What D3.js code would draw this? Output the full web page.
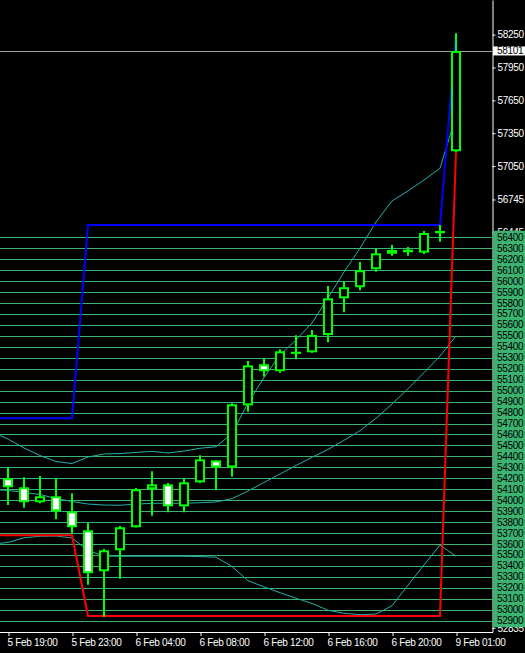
<!DOCTYPE html>
<html>

<head>
    <meta charset="utf-8">
    <style>
        body {
            margin: 0;
            background: #000;
        }

        svg {
            display: block;
            background: #000;
        }

        text {
            font-family: 'Liberation Sans', Arial, sans-serif;
            font-size: 10px;
            letter-spacing: -0.3px;
        }

        .axis .domain,
        .axis .tick line {
            stroke: #fff;
        }

        .axis .tick text {
            fill: #fff;
        }
    </style>
</head>

<body>
    <svg width="525" height="653"></svg>

    <script src="https://d3js.org/d3.v7.min.js"></script>
    <script>
        // hourly bars, label every 4th bar
        let timeLabels = ["5 Feb 19:00", "5 Feb 23:00", "6 Feb 04:00", "6 Feb 08:00",
            "6 Feb 12:00", "6 Feb 16:00", "6 Feb 20:00", "9 Feb 01:00"]
        let labelBars = [0, 4, 8, 12, 16, 20, 24, 28]

        let opens = [54200, 54118, 53981, 54036, 53899, 53725, 53351, 53543, 53753, 54100,
            54145, 53944, 54163, 54364, 54300, 54866, 55241, 55177, 55355, 55350,
            55508, 55843, 55944, 56108, 56250, 56287, 56260, 56437, 57185]
        let highs = [54300, 54209, 54221, 54203, 54063, 53795, 53557, 53765, 54111, 54264,
            54157, 54200, 54410, 54366, 54885, 55271, 55295, 55378, 55505, 55554,
            55956, 55995, 56175, 56300, 56330, 56312, 56458, 56512, 58262]
        let lows = [53956, 53932, 53972, 53826, 53698, 53229, 52937, 53283, 53750, 53859,
            53890, 53890, 54154, 54090, 54215, 54808, 55127, 55164, 55286, 55345,
            55442, 55715, 55916, 56086, 56232, 56232, 56248, 56360, 57178]
        let closes = [54118, 53981, 54036, 53899, 53753, 53333, 53543, 53753, 54100, 54145,
            53944, 54163, 54373, 54300, 54876, 55231, 55177, 55359, 55343, 55508,
            55843, 55944, 56099, 56254, 56284, 56263, 56439, 56458, 58101]

        // indicator lines, one value per bar starting at bar -1
        let upperBand = [54623, 54559, 54477, 54408, 54353, 54335, 54394, 54422, 54426, 54436,
            54446, 54431, 54449, 54474, 54488, 54610, 54887, 55120, 55326, 55463,
            55618, 55846, 56083, 56300, 56540, 56731, 56823, 56923, 57030, 57507]
        let middleBand = [54098, 54089, 54072, 54052, 54016, 53988, 53965, 53956, 53954, 53964,
            53972, 53972, 53972, 53977, 53984, 54014, 54084, 54162, 54239, 54317,
            54392, 54463, 54547, 54635, 54748, 54878, 55018, 55164, 55316, 55499]
        let lowerBand = [53600, 53614, 53657, 53671, 53673, 53655, 53541, 53491, 53488, 53488,
            53488, 53488, 53488, 53486, 53480, 53395, 53265, 53209, 53156, 53105,
            53058, 52995, 52968, 52955, 52961, 53037, 53225, 53409, 53591, 53489]
        let highLine = [54748, 54748, 54748, 54748, 54748, 54748, 56512, 56512, 56512, 56512,
            56512, 56512, 56512, 56512, 56512, 56512, 56512, 56512, 56512, 56512,
            56512, 56512, 56512, 56512, 56512, 56512, 56512, 56512, 56512, 58262]
        let lowLine = [53680, 53680, 53680, 53680, 53680, 53680, 52943, 52943, 52943, 52943,
            52943, 52943, 52943, 52943, 52943, 52943, 52943, 52943, 52943, 52943,
            52943, 52943, 52943, 52943, 52943, 52943, 52943, 52943, 52943, 57181]

        // horizontal level lines (with labels on the price scale)
        let levels = [56400, 56300, 56200, 56100, 56000, 55900, 55800, 55700, 55600, 55500,
            55400, 55300, 55200, 55100, 55000, 54900, 54800, 54700, 54600, 54500,
            54400, 54300, 54200, 54100, 54000, 53900, 53800, 53700, 53600, 53500,
            53400, 53300, 53200, 53100, 53000, 52900]
        let priceTicks = [58250, 57950, 57650, 57350, 57050, 56745, 56445, 52835]
        let lastPrice = 58101

        let plotRight = 492
        let plotBottom = 632
        let svg = d3.select("svg")

        let x = d3.scaleLinear()
            .domain([0, 28])
            .range([8, 456])

        let y = d3.scaleLinear()
            .domain([52797, 58566])
            .range([plotBottom, 0])

        svg.append("clipPath")
            .attr("id", "plot")
            .append("rect")
            .attr("width", plotRight)
            .attr("height", plotBottom)

        let plot = svg.append("g").attr("clip-path", "url(#plot)")

        plot.append("g")
            .selectAll("line")
            .data(levels)
            .join("line")
            .attr("x1", 0)
            .attr("x2", plotRight)
            .attr("y1", d => Math.round(y(d)) + 0.5)
            .attr("y2", d => Math.round(y(d)) + 0.5)
            .attr("stroke", "#3cb371")

        let line = d3.line()
            .x((d, i) => x(i - 1))
            .y(d => y(d))

        plot.selectAll(".band")
            .data([upperBand, middleBand, lowerBand])
            .join("path")
            .attr("class", "band")
            .attr("fill", "none")
            .attr("stroke", "#20b2aa")
            .attr("stroke-width", 1)
            .attr("d", line)

        plot.append("path")
            .attr("fill", "none")
            .attr("stroke", "#0000ff")
            .attr("stroke-width", 2)
            .attr("d", line(highLine))

        plot.append("path")
            .attr("fill", "none")
            .attr("stroke", "#ff0000")
            .attr("stroke-width", 2)
            .attr("d", line(lowLine))

        plot.append("line")
            .attr("x1", 0)
            .attr("x2", plotRight)
            .attr("y1", Math.round(y(lastPrice)) + 0.5)
            .attr("y2", Math.round(y(lastPrice)) + 0.5)
            .attr("stroke", "#a0a0a0")

        // candles
        let bars = opens.map((o, i) => ({ i: i, o: o, h: highs[i], l: lows[i], c: closes[i] }))

        let candle = plot.append("g")
            .selectAll("g")
            .data(bars)
            .join("g")

        candle.append("line")
            .attr("x1", d => x(d.i))
            .attr("x2", d => x(d.i))
            .attr("y1", d => y(d.h))
            .attr("y2", d => y(d.l))
            .attr("stroke", "#00ff00")
            .attr("stroke-width", 2)

        candle.append("rect")
            .attr("x", d => x(d.i) - 4)
            .attr("width", 8)
            .attr("y", d => y(Math.max(d.o, d.c)) + 1)
            .attr("height", d => Math.max(y(Math.min(d.o, d.c)) - y(Math.max(d.o, d.c)) - 2, 0.1))
            .attr("fill", d => d.c >= d.o ? "#000" : "#fff")
            .attr("stroke", "#00ff00")
            .attr("stroke-width", 2)

        // price scale
        svg.append("g")
            .attr("class", "axis")
            .attr("transform", `translate(${plotRight + 0.5},0)`)
            .call(d3.axisRight(y)
                .tickValues(priceTicks)
                .tickSize(3)
                .tickSizeOuter(0)
                .tickPadding(2)
                .tickFormat(d => d))

        let levelLabel = svg.append("g")
            .selectAll("g")
            .data(levels)
            .join("g")
            .attr("transform", d => `translate(${plotRight + 1},${y(d)})`)

        levelLabel.append("rect")
            .attr("y", -6.5)
            .attr("width", 525 - plotRight)
            .attr("height", 13)
            .attr("fill", "#3cb371")

        levelLabel.append("text")
            .attr("x", 4)
            .attr("dy", "0.35em")
            .attr("fill", "#000")
            .text(d => d)

        let priceLabel = svg.append("g")
            .attr("transform", `translate(${plotRight + 1},${y(lastPrice)})`)

        priceLabel.append("rect")
            .attr("y", -4.5)
            .attr("width", 525 - plotRight)
            .attr("height", 9)
            .attr("fill", "#fff")

        priceLabel.append("text")
            .attr("x", 4)
            .attr("dy", "0.35em")
            .attr("fill", "#000")
            .text(lastPrice)

        // time scale
        svg.append("line")
            .attr("x1", 0)
            .attr("x2", plotRight + 1)
            .attr("y1", plotBottom + 0.5)
            .attr("y2", plotBottom + 0.5)
            .attr("stroke", "#fff")

        svg.append("g")
            .attr("class", "axis")
            .attr("transform", `translate(0.5,${plotBottom})`)
            .call(d3.axisBottom(x)
                .tickValues(labelBars)
                .tickSize(4)
                .tickSizeOuter(0)
                .tickPadding(3)
                .tickFormat((d, i) => timeLabels[i]))
            .call(g => g.selectAll(".domain").remove())
            .call(g => g.selectAll(".tick text").attr("text-anchor", "start").attr("x", -1.5))
    </script>
</body>

</html>
